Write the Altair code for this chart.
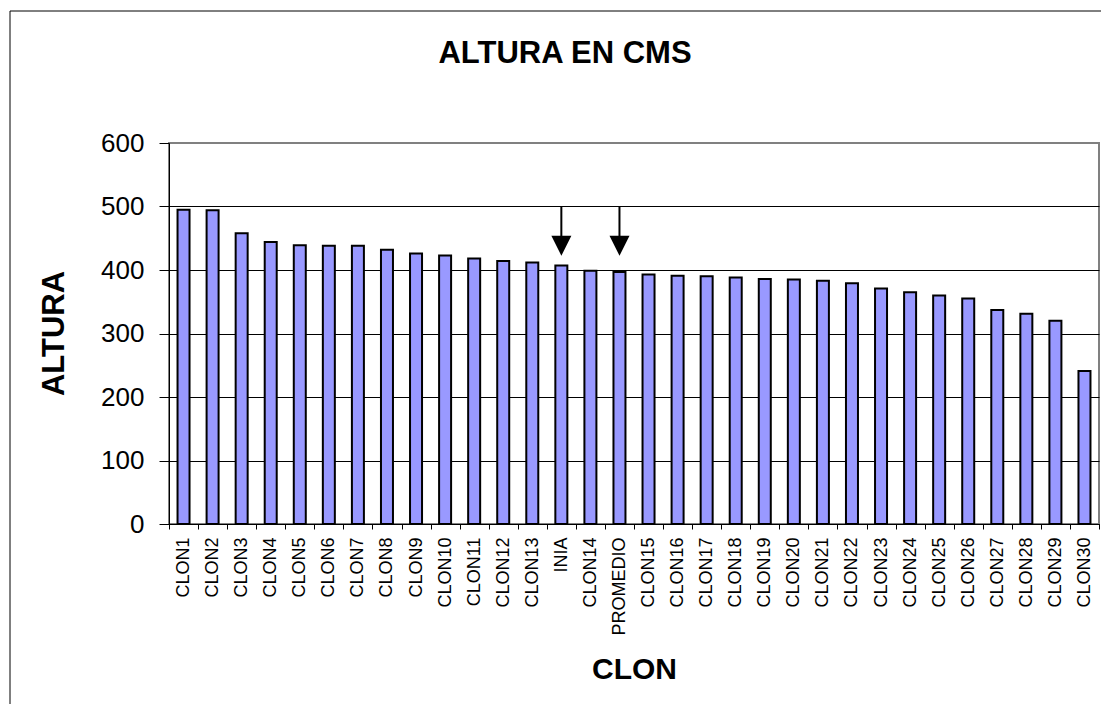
import altair as alt
import pandas as pd

categories = ["CLON1", "CLON2", "CLON3", "CLON4", "CLON5", "CLON6", "CLON7", "CLON8",
              "CLON9", "CLON10", "CLON11", "CLON12", "CLON13", "INIA", "CLON14", "PROMEDIO",
              "CLON15", "CLON16", "CLON17", "CLON18", "CLON19", "CLON20", "CLON21", "CLON22",
              "CLON23", "CLON24", "CLON25", "CLON26", "CLON27", "CLON28", "CLON29", "CLON30"]
alturas = [495, 494, 458, 444, 439, 438, 438, 432, 426, 423, 418, 414, 412, 407, 399, 397,
           393, 391, 390, 388, 386, 385, 383, 379, 371, 365, 360, 355, 337, 331, 320, 241]

arrow_cats = ["INIA", "PROMEDIO"]
arrow_start = [500, 500]
arrow_neck = [453, 453]
arrow_head = [438, 438]

y_ticks = [0, 100, 200, 300, 400, 500, 600]

chart_title = "ALTURA EN CMS"
x_title = "CLON"
y_title = "ALTURA"

FONT = "Liberation Sans"

df = pd.DataFrame({"clon": categories, "altura": alturas})
arrows = pd.DataFrame({"clon": arrow_cats, "start": arrow_start, "neck": arrow_neck,
                       "head": arrow_head})

x_enc = alt.X("clon:N", sort=categories,
              scale=alt.Scale(paddingInner=0, paddingOuter=0),
              axis=alt.Axis(title=x_title, labelAngle=-90, labelFontSize=18, labelFont=FONT,
                            labelColor="black", labelPadding=8, tickBand="extent",
                            tickSize=5, tickColor="black", domainColor="black",
                            titleFont=FONT, titleFontSize=30, titleFontWeight="bold",
                            titleColor="black", titleX=465, titleY=154,
                            titleBaseline="alphabetic", titleAlign="center", grid=False))
y_scale = alt.Scale(domain=[0, 600], nice=False)

bars = alt.Chart(df).mark_bar(size=12, fill="#9999FF", stroke="black", strokeWidth=2).encode(
    x=x_enc,
    y=alt.Y("altura:Q", scale=y_scale,
            axis=alt.Axis(title=y_title, values=y_ticks, labelFontSize=26, labelFont=FONT,
                          labelColor="black", labelPadding=15, tickSize=10,
                          tickColor="black", domainColor="black", grid=True,
                          gridColor=alt.condition("datum.value == 600", alt.value("#808080"),
                                                  alt.value("black")),
                          gridWidth=1,
                          titleFont=FONT, titleFontSize=31, titleFontWeight="bold",
                          titleColor="black", titleAngle=-90, titleX=-106, titleY=190,
                          titleBaseline="alphabetic", titleAlign="center")),
)

shafts = alt.Chart(arrows).mark_rule(color="black", strokeWidth=2).encode(
    x=alt.X("clon:N", sort=categories),
    y=alt.Y("start:Q", scale=y_scale),
    y2="neck:Q",
)

heads = alt.Chart(arrows).mark_point(shape="M-1,-1L1,-1L0,1Z", size=400, filled=True,
                                     color="black", opacity=1).encode(
    x=alt.X("clon:N", sort=categories),
    y=alt.Y("head:Q", scale=y_scale),
)

title_df = pd.DataFrame({"t": [chart_title]})
title = alt.Chart(title_df).mark_text(font=FONT, fontSize=31, fontWeight="bold",
                                      color="black", align="center",
                                      baseline="alphabetic").encode(
    x=alt.value(396), y=alt.value(-80), text="t:N")

frame = alt.Chart(title_df).mark_rect(filled=False, stroke="black", strokeWidth=1).encode(
    x=alt.value(-159), x2=alt.value(946), y=alt.value(-132), y2=alt.value(577))

chart = alt.layer(frame, bars, shafts, heads, title).properties(
    width=930, height=381,
    autosize=alt.AutoSizeParams(type="none"),
    padding={"left": 161, "top": 135, "right": 2, "bottom": 180},
    background="white",
).configure_view(stroke="#808080", strokeWidth=2)

chart.save("out.html", embed_options={"renderer": "svg", "actions": False})
